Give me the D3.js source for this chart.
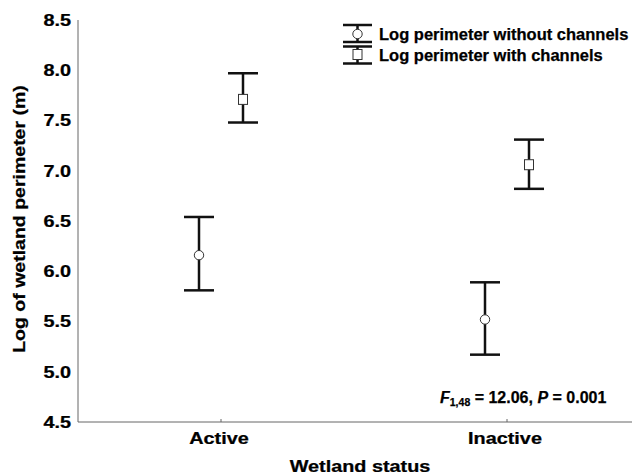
<!DOCTYPE html>
<html>
<head>
<meta charset="utf-8">
<script src="https://cdn.jsdelivr.net/npm/d3@7"></script>
<style>
	body { margin: 0; background: #fff; }
	svg { display: block; font-family: "Liberation Sans", Arial, sans-serif; font-weight: bold; }
	text { fill: #000; stroke: #000; stroke-width: 0.25px; }
</style>
</head>
<body>
<div id="chart"></div>
<script>
var categories = ["Active", "Inactive"];
var seriesNames = ["Log perimeter without channels", "Log perimeter with channels"];
var meanWithout = [6.16, 5.52];
var lowerWithout = [5.81, 5.17];
var upperWithout = [6.54, 5.89];
var meanWith = [7.71, 7.06];
var lowerWith = [7.48, 6.82];
var upperWith = [7.97, 7.31];
var yTicks = [4.5, 5.0, 5.5, 6.0, 6.5, 7.0, 7.5, 8.0, 8.5];

var width = 632, height = 475;
var plotLeft = 78, plotTop = 20, plotBottom = 422;
// axis texts in the original look widened, not letter spaced
var stretch = 'scale(1.24,1)';

var svg = d3.select('#chart')
	.append('svg')
	.attr('width', width)
	.attr('height', height);

var y = d3.scaleLinear()
	.domain([4.5, 8.5])
	.range([plotBottom, plotTop]);

// the plot frame runs past the right edge of the picture
var x = d3.scaleBand()
	.domain(categories)
	.range([plotLeft, 650])
	.padding(0);

var xSeries = d3.scaleBand()
	.domain(seriesNames)
	.range([-44, 44]);

function catCenter(c) {
	return x(c) + x.bandwidth() / 2;
}

// axes
svg.append('line')
	.attr('x1', plotLeft).attr('x2', plotLeft)
	.attr('y1', y(8.5)).attr('y2', y(4.5))
	.attr('stroke', '#666').attr('stroke-width', 1);

svg.append('line')
	.attr('x1', plotLeft).attr('x2', width)
	.attr('y1', y(4.5)).attr('y2', y(4.5))
	.attr('stroke', '#666').attr('stroke-width', 1);

svg.selectAll('.xtick')
	.data(categories)
	.enter()
	.append('line')
	.attr('x1', catCenter).attr('x2', catCenter)
	.attr('y1', y(4.5)).attr('y2', y(4.5) - 3)
	.attr('stroke', '#666');

svg.selectAll('.ylab')
	.data(yTicks)
	.enter()
	.append('text')
	.attr('transform', function(d) { return 'translate(71,' + y(d) + ') ' + stretch })
	.attr('dy', '0.36em')
	.attr('text-anchor', 'end')
	.attr('font-size', 16)
	.text(function(d) { return d.toFixed(1) });

svg.selectAll('.xlab')
	.data(categories)
	.enter()
	.append('text')
	.attr('transform', function(d) { return 'translate(' + (catCenter(d) - 2) + ',444) ' + stretch })
	.attr('text-anchor', 'middle')
	.attr('font-size', 16)
	.text(function(d) { return d });

svg.append('text')
	.attr('transform', 'translate(360,472) ' + stretch)
	.attr('text-anchor', 'middle')
	.attr('font-size', 16)
	.text('Wetland status');

svg.append('text')
	.attr('transform', 'translate(25,219) rotate(-90) scale(1.22,1)')
	.attr('text-anchor', 'middle')
	.attr('font-size', 16)
	.text('Log of wetland perimeter (m)');

// error bars
var series = [
	{ name: seriesNames[0], mean: meanWithout, lo: lowerWithout, hi: upperWithout, shape: 'circle' },
	{ name: seriesNames[1], mean: meanWith, lo: lowerWith, hi: upperWith, shape: 'square' }
];

var capHalf = 15;

function drawBar(g, cx, ylo, yhi, ymid, shape) {
	g.append('line')
		.attr('x1', cx).attr('x2', cx)
		.attr('y1', yhi).attr('y2', ylo)
		.attr('stroke', '#111').attr('stroke-width', 2.5);
	[yhi, ylo].forEach(function(yy) {
		g.append('line')
			.attr('x1', cx - capHalf).attr('x2', cx + capHalf)
			.attr('y1', yy).attr('y2', yy)
			.attr('stroke', '#111').attr('stroke-width', 2.5);
	});
	if (shape == 'circle') {
		g.append('circle')
			.attr('cx', cx).attr('cy', ymid).attr('r', 4.7)
			.attr('fill', '#fff').attr('stroke', '#333').attr('stroke-width', 1);
	} else {
		g.append('rect')
			.attr('x', cx - 4.5).attr('y', ymid - 5)
			.attr('width', 9).attr('height', 10)
			.attr('fill', '#fff').attr('stroke', '#333').attr('stroke-width', 1);
	}
}

series.forEach(function(s) {
	var g = svg.append('g');
	categories.forEach(function(c, i) {
		var cx = catCenter(c) + xSeries(s.name) + xSeries.bandwidth() / 2;
		drawBar(g, cx, y(s.lo[i]), y(s.hi[i]), y(s.mean[i]), s.shape);
	});
});

// legend
var legendTops = [25, 46.5];
series.forEach(function(s, i) {
	var g = svg.append('g');
	var t = legendTops[i];
	capHalf = 14.5;
	drawBar(g, 357.5, t + 17, t, i == 0 ? t + 9 : t + 8, s.shape);
	g.append('text')
		.attr('x', 379)
		.attr('y', t + (i == 0 ? 15 : 14.5))
		.attr('font-size', 16.5)
		.text(s.name);
});

// test statistic
var stat = svg.append('text')
	.attr('x', 440)
	.attr('y', 403)
	.attr('font-size', 16);
stat.append('tspan').attr('font-style', 'italic').text('F');
stat.append('tspan').attr('font-size', 10.5).attr('dy', 3).text('1,48');
stat.append('tspan').attr('dy', -3).text(' = 12.06, ');
stat.append('tspan').attr('font-style', 'italic').text('P');
stat.append('tspan').text(' = 0.001');
</script>
</body>
</html>
